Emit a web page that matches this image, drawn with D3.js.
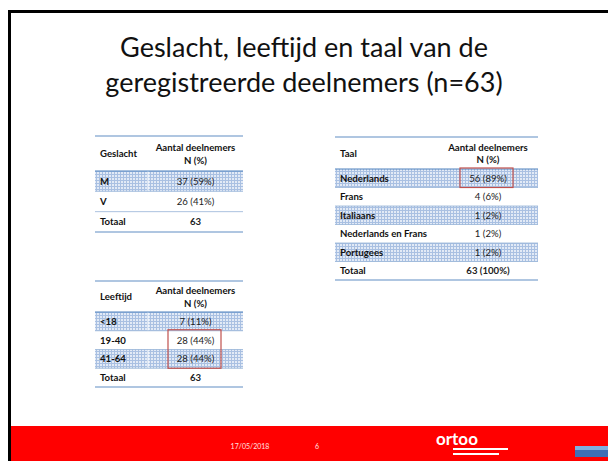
<!DOCTYPE html>
<html>
<head>
<meta charset="utf-8">
<script src="https://cdn.jsdelivr.net/npm/d3@7"></script>
<style>
  body { margin: 0; background: #fff; }
  svg { display: block; font-family: Lato, "Open Sans", sans-serif; }
</style>
</head>
<body>
<div id="chart"></div>
<script>
// data
const geslachtCats = ["M", "V"];
const geslachtN = [37, 26];
const geslachtPct = [59, 41];
const geslachtTotal = "63";

const leeftijdCats = ["<18", "19-40", "41-64"];
const leeftijdN = [7, 28, 28];
const leeftijdPct = [11, 44, 44];
const leeftijdTotal = "63";

const taalCats = ["Nederlands", "Frans", "Italiaans", "Nederlands en Frans", "Portugees"];
const taalN = [56, 4, 1, 1, 1];
const taalPct = [89, 6, 2, 2, 2];
const taalTotal = "63 (100%)";

const titleLines = ["Geslacht, leeftijd en taal van de", "geregistreerde deelnemers (n=63)"];

const W = 608, H = 461;
const FS = 9.6;
const svg = d3.select("#chart").append("svg")
    .attr("width", W)
    .attr("height", H);

const defs = svg.append("defs");
const pat = defs.append("pattern")
    .attr("id", "dots")
    .attr("width", 3)
    .attr("height", 3)
    .attr("patternUnits", "userSpaceOnUse");
pat.append("rect").attr("width", 3).attr("height", 3).attr("fill", "#e2eaf6");
pat.append("rect").attr("width", 3).attr("height", 1).attr("fill", "#a9c0e2");
pat.append("rect").attr("width", 1).attr("height", 3).attr("fill", "#a9c0e2");

// slide frame
svg.append("rect").attr("x", 8).attr("y", 10).attr("width", 3).attr("height", H - 10).attr("fill", "#000");
svg.append("rect").attr("x", 8).attr("y", 10).attr("width", W - 8).attr("height", 3).attr("fill", "#000");

// title
svg.append("g").selectAll("text")
    .data(titleLines)
    .join("text")
    .attr("x", 304)
    .attr("y", (d, i) => 57 + i * 35)
    .attr("text-anchor", "middle")
    .attr("font-size", 27)
    .attr("fill", "#111")
    .text(d => d);

function drawTable(opt) {
    const g = svg.append("g");
    const rows = opt.cats.map((c, i) => ({ label: c, value: `${opt.n[i]} (${opt.pct[i]}%)`, shade: i % 2 === 0 }));
    rows.push({ label: "Totaal", value: opt.total, shade: false, total: true });

    const y = d3.scaleBand()
        .domain(d3.range(rows.length))
        .range([opt.y1, opt.y2]);

    const col2 = (opt.split + opt.x2) / 2;

    // shaded rows
    g.selectAll("rect.shade")
        .data(rows.filter(r => r.shade))
        .join("rect")
        .attr("class", "shade")
        .attr("x", opt.x1)
        .attr("y", d => y(rows.indexOf(d)))
        .attr("width", opt.x2 - opt.x1)
        .attr("height", y.bandwidth())
        .attr("fill", "url(#dots)");

    if (opt.gap) {
        g.selectAll("rect.gap")
            .data(rows.filter(r => r.shade))
            .join("rect")
            .attr("class", "gap")
            .attr("x", opt.split - 0.5)
            .attr("y", d => y(rows.indexOf(d)))
            .attr("width", 1)
            .attr("height", y.bandwidth())
            .attr("fill", "#fff");
    }

    // header
    g.append("text")
        .attr("x", opt.x1 + 5)
        .attr("y", (opt.y0 + opt.y1) / 2 + 3.5)
        .attr("font-size", FS)
        .attr("font-weight", "bold")
        .attr("fill", "#111")
        .text(opt.head);
    g.append("text")
        .attr("x", col2)
        .attr("y", (opt.y0 + opt.y1) / 2 - 2.5)
        .attr("text-anchor", "middle")
        .attr("font-size", FS)
        .attr("font-weight", "bold")
        .attr("fill", "#111")
        .text("Aantal deelnemers");
    g.append("text")
        .attr("x", col2)
        .attr("y", (opt.y0 + opt.y1) / 2 + 10)
        .attr("text-anchor", "middle")
        .attr("font-size", FS)
        .attr("font-weight", "bold")
        .attr("fill", "#111")
        .text("N (%)");

    // row texts
    g.selectAll("text.lab")
        .data(rows)
        .join("text")
        .attr("class", "lab")
        .attr("x", opt.x1 + 5)
        .attr("y", (d, i) => y(i) + y.bandwidth() / 2 + 3.5)
        .attr("font-size", FS)
        .attr("font-weight", "bold")
        .attr("fill", "#111")
        .text(d => d.label);
    g.selectAll("text.val")
        .data(rows)
        .join("text")
        .attr("class", "val")
        .attr("x", col2)
        .attr("y", (d, i) => y(i) + y.bandwidth() / 2 + 3.5)
        .attr("text-anchor", "middle")
        .attr("font-size", FS)
        .attr("font-weight", d => d.total ? "bold" : "normal")
        .attr("fill", "#222")
        .text(d => d.value);

    // rules
    const line = (yy, col, w) => g.append("line")
        .attr("x1", opt.x1).attr("x2", opt.x2)
        .attr("y1", yy).attr("y2", yy)
        .attr("stroke", col).attr("stroke-width", w);
    line(opt.y0, "#95b3d7", 1.5);
    line(opt.y1, "#4f81bd", 1);
    rows.forEach((r, i) => { if (i > 0) line(y(i), "#95b3d7", 0.8); });
    line(opt.y2, "#95b3d7", 1.5);

    // highlight box
    if (opt.box) {
        const [a, b] = opt.box;
        g.append("rect")
            .attr("x", opt.boxX[0])
            .attr("y", y(a) - 1)
            .attr("width", opt.boxX[1] - opt.boxX[0])
            .attr("height", y(b) + y.bandwidth() - y(a) + 1)
            .attr("fill", "none")
            .attr("stroke", "#c0504d")
            .attr("stroke-width", 1.2);
    }
}

drawTable({ head: "Geslacht", cats: geslachtCats, n: geslachtN, pct: geslachtPct, total: geslachtTotal,
    x1: 95, x2: 243, split: 148, y0: 136, y1: 171, y2: 232, gap: true });

drawTable({ head: "Taal", cats: taalCats, n: taalN, pct: taalPct, total: taalTotal,
    x1: 335, x2: 538, split: 438, y0: 137, y1: 169, y2: 280, box: [0, 0], boxX: [460, 513] });

drawTable({ head: "Leeftijd", cats: leeftijdCats, n: leeftijdN, pct: leeftijdPct, total: leeftijdTotal,
    x1: 95, x2: 243, split: 148, y0: 281, y1: 312, y2: 387, gap: true, box: [1, 2], boxX: [168, 221] });

// footer
const foot = svg.append("g");
foot.append("rect").attr("x", 11).attr("y", 426).attr("width", W - 11).attr("height", H - 426).attr("fill", "#ff0000");
foot.append("text").attr("x", 250).attr("y", 449).attr("text-anchor", "middle")
    .attr("font-size", 7).attr("fill", "#ffe0e0").text("17/05/2018");
foot.append("text").attr("x", 317).attr("y", 449).attr("text-anchor", "middle")
    .attr("font-size", 7).attr("fill", "#ffe0e0").text("6");
foot.append("text").attr("x", 436).attr("y", 445)
    .attr("font-size", 17).attr("font-weight", "bold").attr("fill", "#fff").text("ortoo");
foot.append("rect").attr("x", 453).attr("y", 448).attr("width", 55).attr("height", 2).attr("fill", "#fff");
foot.append("rect").attr("x", 453).attr("y", 453).attr("width", 46).attr("height", 2).attr("fill", "#fff");
foot.append("rect").attr("x", 575).attr("y", 446).attr("width", 33).attr("height", 11).attr("fill", "#3f6fb5");
foot.append("rect").attr("x", 575).attr("y", 446).attr("width", 33).attr("height", 4).attr("fill", "#7fb0e0");
</script>
</body>
</html>
